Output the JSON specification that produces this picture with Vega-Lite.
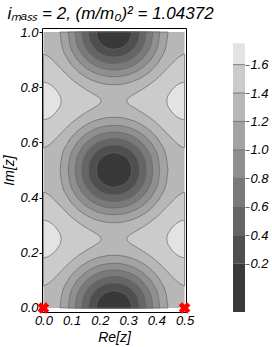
{
  "$schema": "https://vega.github.io/schema/vega-lite/v6.json",
  "padding": {"left": 2, "top": 4, "right": 2, "bottom": 2},
  "background": "white",
  "title": {"text": "iₘₐₛₛ = 2, (m/m₀)² = 1.04372", "anchor": "start", "dx": 5, "offset": 3, "font": "Liberation Sans", "fontSize": 17, "fontStyle": "italic", "fontWeight": "normal", "color": "black"},
  "datasets": {
    "mins": [
      {"lv":1.2,"x":0.0588,"b":0,"m1":0.5,"m2":0.5,"u":1},
      {"lv":1.2,"x":0.0653,"b":0.0489,"m1":0.4511,"m2":0.5489,"u":0.9511},
      {"lv":1.2,"x":0.0844,"b":0.0956,"m1":0.4044,"m2":0.5956,"u":0.9044},
      {"lv":1.2,"x":0.1148,"b":0.1356,"m1":0.3644,"m2":0.6356,"u":0.8644},
      {"lv":1.2,"x":0.1544,"b":0.1656,"m1":0.3344,"m2":0.6656,"u":0.8344},
      {"lv":1.2,"x":0.2005,"b":0.1845,"m1":0.3155,"m2":0.6845,"u":0.8155},
      {"lv":1.2,"x":0.25,"b":0.1912,"m1":0.3088,"m2":0.6912,"u":0.8088},
      {"lv":1.2,"x":0.2995,"b":0.1845,"m1":0.3155,"m2":0.6845,"u":0.8155},
      {"lv":1.2,"x":0.3456,"b":0.1656,"m1":0.3344,"m2":0.6656,"u":0.8344},
      {"lv":1.2,"x":0.3852,"b":0.1356,"m1":0.3644,"m2":0.6356,"u":0.8644},
      {"lv":1.2,"x":0.4156,"b":0.0956,"m1":0.4044,"m2":0.5956,"u":0.9044},
      {"lv":1.2,"x":0.4347,"b":0.0489,"m1":0.4511,"m2":0.5489,"u":0.9511},
      {"lv":1.2,"x":0.4412,"b":0,"m1":0.5,"m2":0.5,"u":1},
      {"lv":1.0,"x":0.0879,"b":0,"m1":0.5,"m2":0.5,"u":1},
      {"lv":1.0,"x":0.0934,"b":0.0434,"m1":0.4566,"m2":0.5434,"u":0.9566},
      {"lv":1.0,"x":0.1096,"b":0.0835,"m1":0.4165,"m2":0.5835,"u":0.9165},
      {"lv":1.0,"x":0.1354,"b":0.1169,"m1":0.3831,"m2":0.6169,"u":0.8831},
      {"lv":1.0,"x":0.169,"b":0.1417,"m1":0.3583,"m2":0.6417,"u":0.8583},
      {"lv":1.0,"x":0.208,"b":0.1569,"m1":0.3431,"m2":0.6569,"u":0.8431},
      {"lv":1.0,"x":0.25,"b":0.1621,"m1":0.3379,"m2":0.6621,"u":0.8379},
      {"lv":1.0,"x":0.292,"b":0.1569,"m1":0.3431,"m2":0.6569,"u":0.8431},
      {"lv":1.0,"x":0.331,"b":0.1417,"m1":0.3583,"m2":0.6417,"u":0.8583},
      {"lv":1.0,"x":0.3646,"b":0.1169,"m1":0.3831,"m2":0.6169,"u":0.8831},
      {"lv":1.0,"x":0.3904,"b":0.0835,"m1":0.4165,"m2":0.5835,"u":0.9165},
      {"lv":1.0,"x":0.4066,"b":0.0434,"m1":0.4566,"m2":0.5434,"u":0.9566},
      {"lv":1.0,"x":0.4121,"b":0,"m1":0.5,"m2":0.5,"u":1},
      {"lv":0.8,"x":0.1123,"b":0,"m1":0.5,"m2":0.5,"u":1},
      {"lv":0.8,"x":0.1169,"b":0.037,"m1":0.463,"m2":0.537,"u":0.963},
      {"lv":0.8,"x":0.1307,"b":0.071,"m1":0.429,"m2":0.571,"u":0.929},
      {"lv":0.8,"x":0.1526,"b":0.0994,"m1":0.4006,"m2":0.5994,"u":0.9006},
      {"lv":0.8,"x":0.1811,"b":0.1205,"m1":0.3795,"m2":0.6205,"u":0.8795},
      {"lv":0.8,"x":0.2143,"b":0.1334,"m1":0.3666,"m2":0.6334,"u":0.8666},
      {"lv":0.8,"x":0.25,"b":0.1377,"m1":0.3623,"m2":0.6377,"u":0.8623},
      {"lv":0.8,"x":0.2857,"b":0.1334,"m1":0.3666,"m2":0.6334,"u":0.8666},
      {"lv":0.8,"x":0.3189,"b":0.1205,"m1":0.3795,"m2":0.6205,"u":0.8795},
      {"lv":0.8,"x":0.3474,"b":0.0994,"m1":0.4006,"m2":0.5994,"u":0.9006},
      {"lv":0.8,"x":0.3693,"b":0.071,"m1":0.429,"m2":0.571,"u":0.929},
      {"lv":0.8,"x":0.3831,"b":0.037,"m1":0.463,"m2":0.537,"u":0.963},
      {"lv":0.8,"x":0.3877,"b":0,"m1":0.5,"m2":0.5,"u":1},
      {"lv":0.6,"x":0.1354,"b":0,"m1":0.5,"m2":0.5,"u":1},
      {"lv":0.6,"x":0.1393,"b":0.0305,"m1":0.4695,"m2":0.5305,"u":0.9695},
      {"lv":0.6,"x":0.1508,"b":0.0587,"m1":0.4413,"m2":0.5587,"u":0.9413},
      {"lv":0.6,"x":0.169,"b":0.0824,"m1":0.4176,"m2":0.5824,"u":0.9176},
      {"lv":0.6,"x":0.1927,"b":0.1,"m1":0.4,"m2":0.6,"u":0.9},
      {"lv":0.6,"x":0.2203,"b":0.1109,"m1":0.3891,"m2":0.6109,"u":0.8891},
      {"lv":0.6,"x":0.25,"b":0.1146,"m1":0.3854,"m2":0.6146,"u":0.8854},
      {"lv":0.6,"x":0.2797,"b":0.1109,"m1":0.3891,"m2":0.6109,"u":0.8891},
      {"lv":0.6,"x":0.3073,"b":0.1,"m1":0.4,"m2":0.6,"u":0.9},
      {"lv":0.6,"x":0.331,"b":0.0824,"m1":0.4176,"m2":0.5824,"u":0.9176},
      {"lv":0.6,"x":0.3492,"b":0.0587,"m1":0.4413,"m2":0.5587,"u":0.9413},
      {"lv":0.6,"x":0.3607,"b":0.0305,"m1":0.4695,"m2":0.5305,"u":0.9695},
      {"lv":0.6,"x":0.3646,"b":0,"m1":0.5,"m2":0.5,"u":1},
      {"lv":0.4,"x":0.1595,"b":0,"m1":0.5,"m2":0.5,"u":1},
      {"lv":0.4,"x":0.1626,"b":0.0239,"m1":0.4761,"m2":0.5239,"u":0.9761},
      {"lv":0.4,"x":0.1716,"b":0.046,"m1":0.454,"m2":0.546,"u":0.954},
      {"lv":0.4,"x":0.186,"b":0.0647,"m1":0.4353,"m2":0.5647,"u":0.9353},
      {"lv":0.4,"x":0.2048,"b":0.0788,"m1":0.4212,"m2":0.5788,"u":0.9212},
      {"lv":0.4,"x":0.2266,"b":0.0875,"m1":0.4125,"m2":0.5875,"u":0.9125},
      {"lv":0.4,"x":0.25,"b":0.0905,"m1":0.4095,"m2":0.5905,"u":0.9095},
      {"lv":0.4,"x":0.2734,"b":0.0875,"m1":0.4125,"m2":0.5875,"u":0.9125},
      {"lv":0.4,"x":0.2952,"b":0.0788,"m1":0.4212,"m2":0.5788,"u":0.9212},
      {"lv":0.4,"x":0.314,"b":0.0647,"m1":0.4353,"m2":0.5647,"u":0.9353},
      {"lv":0.4,"x":0.3284,"b":0.046,"m1":0.454,"m2":0.546,"u":0.954},
      {"lv":0.4,"x":0.3374,"b":0.0239,"m1":0.4761,"m2":0.5239,"u":0.9761},
      {"lv":0.4,"x":0.3405,"b":0,"m1":0.5,"m2":0.5,"u":1},
      {"lv":0.2,"x":0.1878,"b":0,"m1":0.5,"m2":0.5,"u":1},
      {"lv":0.2,"x":0.19,"b":0.0163,"m1":0.4837,"m2":0.5163,"u":0.9837},
      {"lv":0.2,"x":0.1962,"b":0.0313,"m1":0.4687,"m2":0.5313,"u":0.9687},
      {"lv":0.2,"x":0.206,"b":0.0442,"m1":0.4558,"m2":0.5442,"u":0.9558},
      {"lv":0.2,"x":0.2189,"b":0.054,"m1":0.446,"m2":0.554,"u":0.946},
      {"lv":0.2,"x":0.2339,"b":0.0601,"m1":0.4399,"m2":0.5601,"u":0.9399},
      {"lv":0.2,"x":0.25,"b":0.0622,"m1":0.4378,"m2":0.5622,"u":0.9378},
      {"lv":0.2,"x":0.2661,"b":0.0601,"m1":0.4399,"m2":0.5601,"u":0.9399},
      {"lv":0.2,"x":0.2811,"b":0.054,"m1":0.446,"m2":0.554,"u":0.946},
      {"lv":0.2,"x":0.294,"b":0.0442,"m1":0.4558,"m2":0.5442,"u":0.9558},
      {"lv":0.2,"x":0.3038,"b":0.0313,"m1":0.4687,"m2":0.5313,"u":0.9687},
      {"lv":0.2,"x":0.31,"b":0.0163,"m1":0.4837,"m2":0.5163,"u":0.9837},
      {"lv":0.2,"x":0.3122,"b":0,"m1":0.5,"m2":0.5,"u":1}
    ],
    "maxs": [
      {"lv":1.4,"x":0,"xr":0.5,"lo":0.08,"hi":0.42,"lo2":0.58,"hi2":0.92},
      {"lv":1.4,"x":0.0133,"xr":0.4867,"lo":0.086,"hi":0.414,"lo2":0.586,"hi2":0.914},
      {"lv":1.4,"x":0.0266,"xr":0.4734,"lo":0.096,"hi":0.404,"lo2":0.596,"hi2":0.904},
      {"lv":1.4,"x":0.053,"xr":0.447,"lo":0.123,"hi":0.377,"lo2":0.623,"hi2":0.877},
      {"lv":1.4,"x":0.1024,"xr":0.3976,"lo":0.173,"hi":0.327,"lo2":0.673,"hi2":0.827},
      {"lv":1.4,"x":0.1447,"xr":0.3553,"lo":0.2046,"hi":0.2954,"lo2":0.7046,"hi2":0.7954},
      {"lv":1.4,"x":0.1773,"xr":0.3227,"lo":0.2246,"hi":0.2754,"lo2":0.7246,"hi2":0.7754},
      {"lv":1.4,"x":0.1977,"xr":0.3023,"lo":0.2387,"hi":0.2613,"lo2":0.7387,"hi2":0.7613},
      {"lv":1.4,"x":0.2016,"xr":0.2984,"lo":0.2427,"hi":0.2573,"lo2":0.7427,"hi2":0.7573},
      {"lv":1.4,"x":0.2047,"xr":0.2953,"lo":0.25,"hi":0.25,"lo2":0.75,"hi2":0.75},
      {"lv":1.6,"x":0,"xr":0.5,"lo":0.182,"hi":0.318,"lo2":0.682,"hi2":0.818},
      {"lv":1.6,"x":0.0164,"xr":0.4836,"lo":0.186,"hi":0.314,"lo2":0.686,"hi2":0.814},
      {"lv":1.6,"x":0.0316,"xr":0.4684,"lo":0.196,"hi":0.304,"lo2":0.696,"hi2":0.804},
      {"lv":1.6,"x":0.0445,"xr":0.4555,"lo":0.209,"hi":0.291,"lo2":0.709,"hi2":0.791},
      {"lv":1.6,"x":0.0546,"xr":0.4454,"lo":0.224,"hi":0.276,"lo2":0.724,"hi2":0.776},
      {"lv":1.6,"x":0.0609,"xr":0.4391,"lo":0.237,"hi":0.263,"lo2":0.737,"hi2":0.763},
      {"lv":1.6,"x":0.063,"xr":0.437,"lo":0.25,"hi":0.25,"lo2":0.75,"hi2":0.75}
    ],
    "pts": [{"x":0,"y":0},{"x":0.5,"y":0}],
    "bar": [
      {"lo":-0.14,"hi":0.2},{"lo":0.2,"hi":0.4},{"lo":0.4,"hi":0.6},{"lo":0.6,"hi":0.8},{"lo":0.8,"hi":1.0},
      {"lo":1.0,"hi":1.2},{"lo":1.2,"hi":1.4},{"lo":1.4,"hi":1.6},{"lo":1.6,"hi":1.75}
    ]
  },
  "hconcat": [
    {
      "width": 144,
      "height": 284,
      "view": {"stroke": "black", "strokeWidth": 1},
      "layer": [
        {
          "data": {"values": [{}]},
          "mark": {"type": "rect", "color": "#b7b7b7"},
          "encoding": {
            "x": {"datum": 0, "type": "quantitative", "title": "Re[z]", "scale": {"domain": [-0.005, 0.505], "nice": false, "zero": false},
                  "axis": {"values": [0, 0.1, 0.2, 0.3, 0.4, 0.5], "format": ".1f", "tickSize": 0, "labelPadding": 2, "titlePadding": 3}},
            "x2": {"datum": 0.5},
            "y": {"datum": 0, "type": "quantitative", "title": "Im[z]", "scale": {"domain": [-0.0145, 1.0145], "nice": false, "zero": false},
                  "axis": {"values": [0, 0.2, 0.4, 0.6, 0.8, 1.0], "format": ".1f", "tickSize": 3, "labelPadding": 1, "titlePadding": 3}},
            "y2": {"datum": 1}
          }
        },
        {
          "data": {"name": "mins"},
          "mark": {"type": "area", "interpolate": "monotone", "stroke": "#666666", "strokeWidth": 0.7},
          "encoding": {
            "x": {"field": "x", "type": "quantitative", "title": "Re[z]", "axis": {"values": [0, 0.1, 0.2, 0.3, 0.4, 0.5], "format": ".1f", "tickSize": 0, "labelPadding": 2, "titlePadding": 3}},
            "y": {"field": "b", "type": "quantitative", "title": "Im[z]", "stack": null, "axis": {"values": [0, 0.2, 0.4, 0.6, 0.8, 1.0], "format": ".1f", "tickSize": 3, "labelPadding": 1, "titlePadding": 3}},
            "y2": {"datum": 0},
            "color": {"field": "lv", "type": "ordinal", "legend": null,
                      "scale": {"domain": [0.2, 0.4, 0.6, 0.8, 1.0, 1.2, 1.4, 1.6], "range": ["#393939", "#4f4f4f", "#656565", "#7a7a7a", "#8f8f8f", "#a3a3a3", "#cbcbcb", "#e3e3e3"]}}
          }
        },
        {
          "data": {"name": "mins"},
          "mark": {"type": "area", "interpolate": "monotone", "stroke": "#666666", "strokeWidth": 0.7},
          "encoding": {
            "x": {"field": "x", "type": "quantitative", "title": "Re[z]", "axis": {"values": [0, 0.1, 0.2, 0.3, 0.4, 0.5], "format": ".1f", "tickSize": 0, "labelPadding": 2, "titlePadding": 3}},
            "y": {"field": "m1", "type": "quantitative", "title": "Im[z]", "stack": null, "axis": {"values": [0, 0.2, 0.4, 0.6, 0.8, 1.0], "format": ".1f", "tickSize": 3, "labelPadding": 1, "titlePadding": 3}},
            "y2": {"field": "m2"},
            "color": {"field": "lv", "type": "ordinal", "legend": null}
          }
        },
        {
          "data": {"name": "mins"},
          "mark": {"type": "area", "interpolate": "monotone", "stroke": "#666666", "strokeWidth": 0.7},
          "encoding": {
            "x": {"field": "x", "type": "quantitative", "title": "Re[z]", "axis": {"values": [0, 0.1, 0.2, 0.3, 0.4, 0.5], "format": ".1f", "tickSize": 0, "labelPadding": 2, "titlePadding": 3}},
            "y": {"field": "u", "type": "quantitative", "title": "Im[z]", "stack": null, "axis": {"values": [0, 0.2, 0.4, 0.6, 0.8, 1.0], "format": ".1f", "tickSize": 3, "labelPadding": 1, "titlePadding": 3}},
            "y2": {"datum": 1},
            "color": {"field": "lv", "type": "ordinal", "legend": null}
          }
        },
        {
          "data": {"name": "maxs"},
          "mark": {"type": "area", "interpolate": "monotone", "stroke": "#666666", "strokeWidth": 0.7},
          "encoding": {
            "x": {"field": "x", "type": "quantitative", "title": "Re[z]", "axis": {"values": [0, 0.1, 0.2, 0.3, 0.4, 0.5], "format": ".1f", "tickSize": 0, "labelPadding": 2, "titlePadding": 3}},
            "y": {"field": "lo", "type": "quantitative", "title": "Im[z]", "stack": null, "axis": {"values": [0, 0.2, 0.4, 0.6, 0.8, 1.0], "format": ".1f", "tickSize": 3, "labelPadding": 1, "titlePadding": 3}},
            "y2": {"field": "hi"},
            "color": {"field": "lv", "type": "ordinal", "legend": null}
          }
        },
        {
          "data": {"name": "maxs"},
          "mark": {"type": "area", "interpolate": "monotone", "stroke": "#666666", "strokeWidth": 0.7},
          "encoding": {
            "x": {"field": "x", "type": "quantitative", "title": "Re[z]", "axis": {"values": [0, 0.1, 0.2, 0.3, 0.4, 0.5], "format": ".1f", "tickSize": 0, "labelPadding": 2, "titlePadding": 3}},
            "y": {"field": "lo2", "type": "quantitative", "title": "Im[z]", "stack": null, "axis": {"values": [0, 0.2, 0.4, 0.6, 0.8, 1.0], "format": ".1f", "tickSize": 3, "labelPadding": 1, "titlePadding": 3}},
            "y2": {"field": "hi2"},
            "color": {"field": "lv", "type": "ordinal", "legend": null}
          }
        },
        {
          "data": {"name": "maxs"},
          "mark": {"type": "area", "interpolate": "monotone", "stroke": "#666666", "strokeWidth": 0.7},
          "encoding": {
            "x": {"field": "xr", "type": "quantitative", "title": "Re[z]", "axis": {"values": [0, 0.1, 0.2, 0.3, 0.4, 0.5], "format": ".1f", "tickSize": 0, "labelPadding": 2, "titlePadding": 3}},
            "y": {"field": "lo", "type": "quantitative", "title": "Im[z]", "stack": null, "axis": {"values": [0, 0.2, 0.4, 0.6, 0.8, 1.0], "format": ".1f", "tickSize": 3, "labelPadding": 1, "titlePadding": 3}},
            "y2": {"field": "hi"},
            "color": {"field": "lv", "type": "ordinal", "legend": null}
          }
        },
        {
          "data": {"name": "maxs"},
          "mark": {"type": "area", "interpolate": "monotone", "stroke": "#666666", "strokeWidth": 0.7},
          "encoding": {
            "x": {"field": "xr", "type": "quantitative", "title": "Re[z]", "axis": {"values": [0, 0.1, 0.2, 0.3, 0.4, 0.5], "format": ".1f", "tickSize": 0, "labelPadding": 2, "titlePadding": 3}},
            "y": {"field": "lo2", "type": "quantitative", "title": "Im[z]", "stack": null, "axis": {"values": [0, 0.2, 0.4, 0.6, 0.8, 1.0], "format": ".1f", "tickSize": 3, "labelPadding": 1, "titlePadding": 3}},
            "y2": {"field": "hi2"},
            "color": {"field": "lv", "type": "ordinal", "legend": null}
          }
        },
        {
          "data": {"name": "pts"},
          "mark": {"type": "point", "shape": "cross", "angle": 45, "filled": true, "color": "#ff0000", "opacity": 1, "size": 140},
          "encoding": {
            "x": {"field": "x", "type": "quantitative", "title": "Re[z]", "axis": {"values": [0, 0.1, 0.2, 0.3, 0.4, 0.5], "format": ".1f", "tickSize": 0, "labelPadding": 2, "titlePadding": 3}},
            "y": {"field": "y", "type": "quantitative", "title": "Im[z]", "axis": {"values": [0, 0.2, 0.4, 0.6, 0.8, 1.0], "format": ".1f", "tickSize": 3, "labelPadding": 1, "titlePadding": 3}}
          }
        }
      ]
    },
    {
      "width": 12,
      "height": 284,
      "view": {"stroke": null},
      "layer": [
        {
          "data": {"name": "bar"},
          "mark": {"type": "rect"},
          "encoding": {
            "y": {"field": "lo", "type": "quantitative", "scale": {"domain": [-0.14, 1.8575], "nice": false, "zero": false},
                  "axis": {"orient": "right", "values": [0.2, 0.4, 0.6, 0.8, 1.0, 1.2, 1.4, 1.6], "format": ".1f", "tickSize": 4, "tickColor": "#666666", "labelPadding": 1, "title": null}},
            "y2": {"field": "hi"},
            "color": {"field": "lo", "type": "ordinal", "legend": null,
                      "scale": {"domain": [-0.14, 0.2, 0.4, 0.6, 0.8, 1.0, 1.2, 1.4, 1.6], "range": ["#393939", "#4f4f4f", "#656565", "#7a7a7a", "#8f8f8f", "#a3a3a3", "#b7b7b7", "#cbcbcb", "#e3e3e3"]}}
          }
        },
        {
          "data": {"name": "bar"},
          "transform": [{"filter": "datum.lo > 0.1"}],
          "mark": {"type": "rule", "color": "#666666", "strokeWidth": 0.8},
          "encoding": {
            "y": {"field": "lo", "type": "quantitative"}
          }
        }
      ]
    }
  ],
  "spacing": 37,
  "resolve": {"scale": {"color": "independent", "y": "independent", "x": "independent"}},
  "config": {
    "axis": {"labelFont": "Liberation Sans", "labelFontStyle": "italic", "labelFontSize": 13, "labelColor": "black",
             "titleFont": "Liberation Sans", "titleFontStyle": "italic", "titleFontWeight": "normal", "titleFontSize": 14, "titleColor": "black",
             "grid": false, "domain": false, "tickColor": "black", "labelFlush": false, "labelOverlap": false}
  }
}
